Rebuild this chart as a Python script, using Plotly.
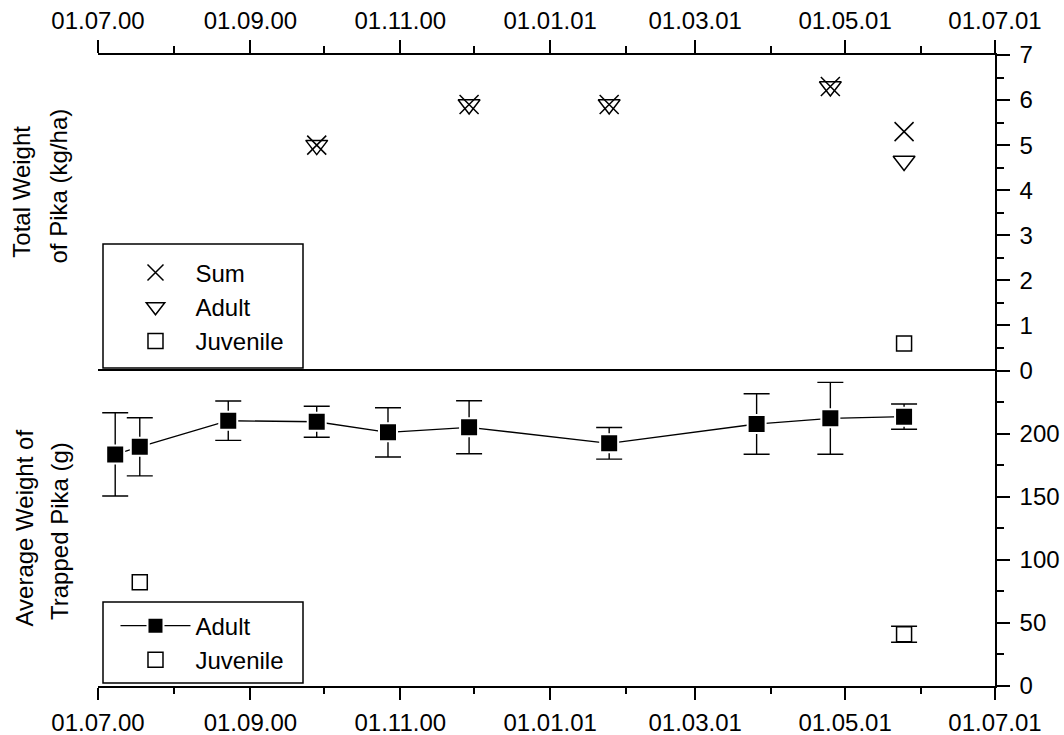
import plotly.graph_objects as go

# ---------------- data ----------------
top_dates = ["2000-09-28", "2000-11-29", "2001-01-25", "2001-04-25", "2001-05-25"]
top_sum = [5.0, 5.9, 5.9, 6.3, 5.3]
top_adult = [5.0, 5.9, 5.9, 6.3, 4.65]
top_juv_dates = ["2001-05-25"]
top_juv = [0.6]

bot_adult_dates = ["2000-07-08", "2000-07-18", "2000-08-23", "2000-09-28", "2000-10-27",
                   "2000-11-29", "2001-01-25", "2001-03-26", "2001-04-25", "2001-05-25"]
bot_adult = [183.5, 189.5, 210.2, 209.4, 201.0, 205.0, 192.3, 207.6, 212.1, 213.4]
bot_adult_err = [33.0, 23.0, 15.6, 12.3, 19.5, 21.0, 12.5, 24.0, 28.5, 10.0]
# juvenile: only the May 2001 sample has an error bar
bot_juv_dates = ["2001-05-25", "2000-07-18"]
bot_juv = [41.0, 82.2]
bot_juv_err = [6.3]

x_range = ["2000-07-01", "2001-07-01"]
top_yticks = [0, 1, 2, 3, 4, 5, 6, 7]
bot_yticks = [0, 50, 100, 150, 200]
bot_yminor = [25, 75, 125, 175, 225]

FONT = "Liberation Sans, Arial, Helvetica, sans-serif"
FS = 24
LW = 1.5

fig = go.Figure()

# top panel
fig.add_trace(go.Scatter(
    x=top_dates, y=top_sum, mode="markers", name="Sum", xaxis="x", yaxis="y",
    marker=dict(symbol="x-thin-open", size=19, color="black", line=dict(width=1.5, color="black")),
    legend="legend"))
fig.add_trace(go.Scatter(
    x=top_dates, y=top_adult, mode="markers", name="Adult", xaxis="x", yaxis="y",
    marker=dict(symbol="triangle-down-open", size=19, color="black", line=dict(width=1.5, color="black")),
    legend="legend"))
fig.add_trace(go.Scatter(
    x=top_juv_dates, y=top_juv, mode="markers", name="Juvenile", xaxis="x", yaxis="y",
    marker=dict(symbol="square", size=15, color="white", line=dict(width=1.5, color="black")),
    legend="legend"))

# bottom panel
fig.add_trace(go.Scatter(
    x=bot_adult_dates, y=bot_adult, mode="lines+markers", name="Adult", xaxis="x2", yaxis="y2",
    line=dict(color="black", width=1.3),
    marker=dict(symbol="square", size=18, color="black", line=dict(width=2, color="white")),
    error_y=dict(type="data", array=bot_adult_err, visible=True, color="black",
                 thickness=1.4, width=13),
    legend="legend2"))
fig.add_trace(go.Scatter(
    x=bot_juv_dates, y=bot_juv, mode="markers", name="Juvenile", xaxis="x2", yaxis="y2",
    marker=dict(symbol="square", size=15, color="white", line=dict(width=1.5, color="black")),
    error_y=dict(type="data", array=bot_juv_err, visible=True, color="black",
                 thickness=1.4, width=13),
    legend="legend2"))

common_x = dict(type="date", range=x_range, tick0="2000-07-01", dtick="M2",
                tickformat="%d.%m.%y", showgrid=False, zeroline=False, automargin=False,
                showline=True, linewidth=LW, linecolor="black",
                ticks="outside", tickwidth=LW, tickcolor="black",
                tickfont=dict(family=FONT, size=FS, color="black"))

legend_common = dict(xanchor="left", yanchor="top", borderwidth=0,
                     bgcolor="rgba(0,0,0,0)", font=dict(family=FONT, size=FS, color="black"),
                     itemwidth=70, tracegroupgap=0)

fig.update_layout(
    width=1064, height=735,
    margin=dict(l=98, r=69, t=55, b=49, autoexpand=False),
    paper_bgcolor="white", plot_bgcolor="white",
    font=dict(family=FONT, size=FS, color="black"),
    xaxis=dict(common_x, domain=[0, 1], anchor="y", side="top", ticklen=13, ticklabelstandoff=2,
               minor=dict(dtick="M1", ticklen=7, ticks="outside", tickwidth=LW, tickcolor="black")),
    xaxis2=dict(common_x, domain=[0, 1], anchor="y2", side="bottom", ticklen=12, mirror=True,
                ticklabelstandoff=2,
                minor=dict(dtick="M1", ticklen=6, ticks="outside", tickwidth=LW, tickcolor="black")),
    xaxis3=dict(type="date", range=x_range, overlaying="x2", anchor="y2", side="top",
                tick0="2000-07-01", dtick="M1", ticks="outside", ticklen=4, tickwidth=LW,
                tickcolor="black", showticklabels=False, showline=False, showgrid=False,
                zeroline=False, automargin=False),
    yaxis=dict(domain=[0.5, 1], range=[0, 7], anchor="x", side="right",
               tickvals=top_yticks, showgrid=False, zeroline=False, automargin=False,
               showline=True, linewidth=LW, linecolor="black",
               ticks="outside", ticklen=13, tickwidth=LW, tickcolor="black", ticklabelstandoff=5,
               tickfont=dict(family=FONT, size=FS, color="black"),
               minor=dict(dtick=0.5, ticklen=7, ticks="outside", tickwidth=LW, tickcolor="black")),
    yaxis2=dict(domain=[0, 0.5], range=[0, 250], anchor="x2", side="right",
                tickvals=bot_yticks, showgrid=False, zeroline=False, automargin=False,
                showline=True, linewidth=LW, linecolor="black",
                ticks="outside", ticklen=13, tickwidth=LW, tickcolor="black", ticklabelstandoff=5,
                tickfont=dict(family=FONT, size=FS, color="black"),
                minor=dict(tickvals=bot_yminor, ticklen=7, ticks="outside", tickwidth=LW, tickcolor="black")),
    yaxis3=dict(range=[0, 7], overlaying="y", anchor="x", side="left", dtick=0.5,
                ticks="outside", ticklen=4, tickwidth=LW, tickcolor="black",
                showticklabels=False, showline=True, linewidth=LW, linecolor="black",
                showgrid=False, zeroline=False, automargin=False),
    yaxis4=dict(range=[0, 250], overlaying="y2", anchor="x2", side="left", dtick=25,
                ticks="outside", ticklen=4, tickwidth=LW, tickcolor="black",
                showticklabels=False, showline=True, linewidth=LW, linecolor="black",
                showgrid=False, zeroline=False, automargin=False),
    legend=dict(legend_common, x=0.0195, y=0.6902),
    legend2=dict(legend_common, x=0.0195, y=0.1307),
    showlegend=True,
)

plot_l, plot_w, plot_b, plot_h = 98, 897, 686, 631

# legend frames
for (bx0, by0, bx1, by1) in [(103, 244, 303, 368), (103, 602, 303, 683)]:
    fig.add_shape(type="rect", xref="paper", yref="paper",
                  x0=(bx0 - plot_l) / plot_w, x1=(bx1 - plot_l) / plot_w,
                  y0=(plot_b - by1) / plot_h, y1=(plot_b - by0) / plot_h,
                  line=dict(color="black", width=1.5), fillcolor="white", layer="below")

# y titles (two lines each)
title_lines = [
    ("Total Weight", 22, 191.7),
    ("of Pika (kg/ha)", 58, 186.5),
    ("Average Weight of", 24, 528.5),
    ("Trapped Pika (g)", 59, 531),
]
for txt, px, py in title_lines:
    fig.add_annotation(text=txt, xref="paper", yref="paper",
                       x=(px - plot_l) / plot_w, y=(plot_b - py) / plot_h,
                       xanchor="center", yanchor="middle", textangle=-90, showarrow=False,
                       font=dict(family=FONT, size=FS, color="black"))

fig.write_html("out.html")
